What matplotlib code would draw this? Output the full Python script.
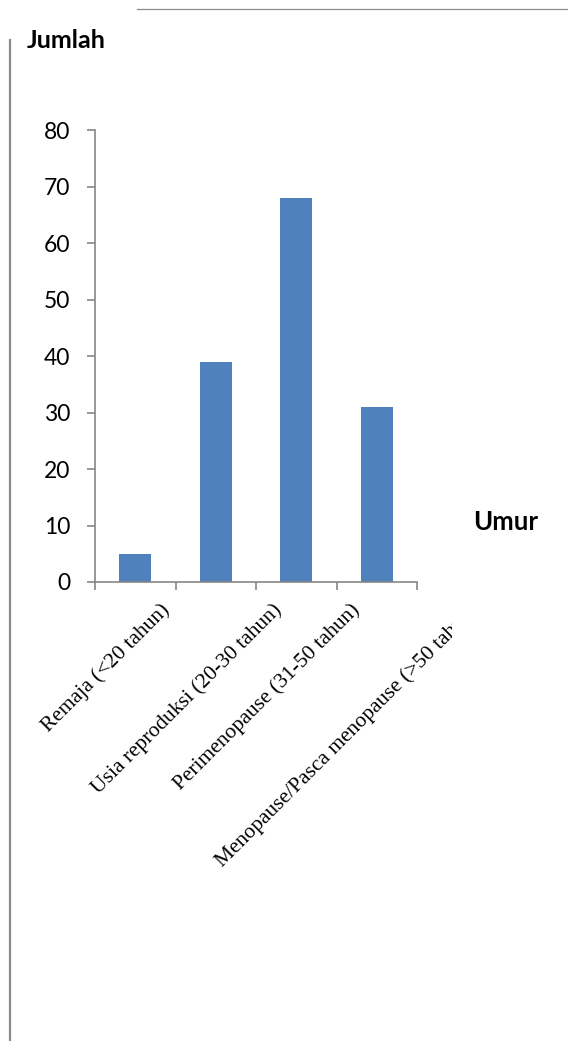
import matplotlib
matplotlib.use("Agg")
import matplotlib.pyplot as plt
import matplotlib.transforms as mtransforms
from matplotlib.lines import Line2D

kategori = ["Remaja (<20 tahun)",
            "Usia reproduksi (20-30 tahun)",
            "Perimenopause (31-50 tahun)",
            "Menopause/Pasca menopause (>50 tahun)"]
jumlah = [5, 39, 68, 31]
yticks = [0, 10, 20, 30, 40, 50, 60, 70, 80]

W, H = 568, 1041
fig = plt.figure(figsize=(W / 100, H / 100), dpi=100)
ax = fig.add_axes([95 / W, 1 - 582 / H, 322 / W, 452 / H])

sans = ["Lato", "DejaVu Sans"]
serif = ["Liberation Serif", "DejaVu Serif"]
axis_col = "#868686"

pos = list(range(len(kategori)))
ax.bar(pos, jumlah, width=0.4, color="#4F81BD", zorder=2)

ax.set_xlim(-0.5, len(kategori) - 0.5)
ax.set_ylim(0, 80)
ax.set_yticks(yticks)
ax.set_yticklabels([str(v) for v in yticks], fontfamily=sans, fontsize=16.5)

# category boundaries get the tick marks, the centres get the labels
ax.set_xticks([p - 0.5 for p in pos] + [pos[-1] + 0.5])
ax.set_xticklabels([])
ax.set_xticks(pos, minor=True)
ax.set_xticklabels(kategori, minor=True, rotation=45,
                   ha="center", va="top", fontfamily=serif, fontsize=15.5)
ax.tick_params(axis="x", which="minor", length=0, pad=13)
ax.tick_params(axis="x", which="major", length=6, color=axis_col, width=1.2)
ax.tick_params(axis="y", length=6, color=axis_col, width=1.2, pad=12)

for s in ["top", "right"]:
    ax.spines[s].set_visible(False)
for s in ["left", "bottom"]:
    ax.spines[s].set_color(axis_col)
    ax.spines[s].set_linewidth(1.2)

# rotated labels sit a bit left of the category centre; the last one is cut at the chart edge
clip = mtransforms.TransformedBbox(mtransforms.Bbox([[0, 0], [452 / W, 1]]),
                                   fig.transFigure)
for lbl in ax.get_xticklabels(minor=True):
    lbl.set_transform(lbl.get_transform() +
                      mtransforms.ScaledTranslation(-29 / 100, 0, fig.dpi_scale_trans))
    lbl.set_clip_on(True)
    lbl.set_clip_box(clip)

fig.text(27 / W, 1 - 40 / H, "Jumlah", fontfamily=sans, fontsize=18,
         fontweight="bold", va="center", ha="left")
fig.text(473 / W, 1 - 522 / H, "Umur", fontfamily=sans, fontsize=18.5,
         fontweight="bold", va="center", ha="left")

# frame lines around the chart
fig.add_artist(Line2D([10 / W, 10 / W], [0, 1 - 40 / H], transform=fig.transFigure,
                      color="#8c8c8c", linewidth=1.6))
fig.add_artist(Line2D([137 / W, 1], [1 - 9 / H, 1 - 9 / H], transform=fig.transFigure,
                      color="#8c8c8c", linewidth=0.9))

fig.savefig("out.png", dpi=100)
